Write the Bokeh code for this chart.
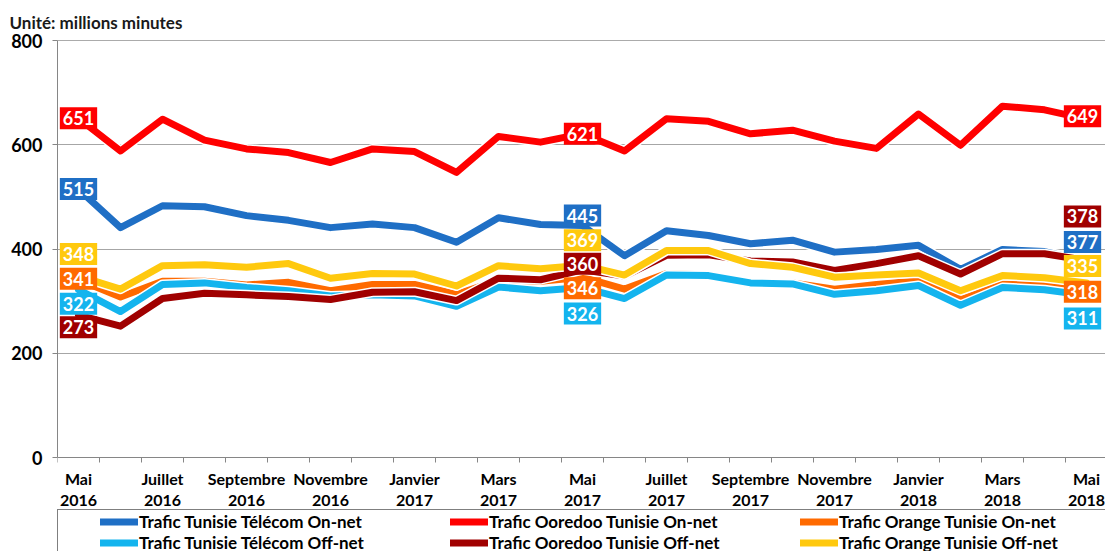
from bokeh.plotting import figure
from bokeh.models import ColumnDataSource, FixedTicker, Legend, LegendItem, Span, Range1d
from bokeh.core.properties import value, field
from bokeh.embed import file_html
from bokeh.resources import INLINE

# ---------------- data ----------------
months = ["Mai 2016", "Juin 2016", "Juillet 2016", "Août 2016", "Septembre 2016", "Octobre 2016",
          "Novembre 2016", "Décembre 2016", "Janvier 2017", "Février 2017", "Mars 2017", "Avril 2017",
          "Mai 2017", "Juin 2017", "Juillet 2017", "Août 2017", "Septembre 2017", "Octobre 2017",
          "Novembre 2017", "Décembre 2017", "Janvier 2018", "Février 2018", "Mars 2018", "Avril 2018",
          "Mai 2018"]
tick_labels = ["Mai\n2016", "Juillet\n2016", "Septembre\n2016", "Novembre\n2016", "Janvier\n2017",
               "Mars\n2017", "Mai\n2017", "Juillet\n2017", "Septembre\n2017", "Novembre\n2017",
               "Janvier\n2018", "Mars\n2018", "Mai\n2018"]

tt_on = [515, 441, 483, 481, 464, 455, 441, 448, 441, 413, 460, 447, 445, 387, 435, 426, 410, 417, 394, 399, 407, 361, 399, 395, 377]
oo_on = [651, 588, 649, 609, 592, 585, 566, 592, 587, 547, 616, 605, 621, 588, 650, 645, 621, 628, 607, 593, 659, 599, 674, 667, 649]
or_on = [341, 308, 338, 338, 331, 336, 320, 332, 332, 313, 340, 338, 346, 323, 353, 350, 333, 335, 323, 332, 339, 303, 333, 330, 318]
tt_off = [322, 280, 332, 335, 326, 320, 310, 312, 310, 290, 327, 320, 326, 305, 350, 349, 335, 333, 313, 320, 330, 292, 326, 322, 311]
oo_off = [273, 252, 305, 315, 312, 309, 303, 317, 318, 301, 344, 341, 360, 348, 388, 389, 377, 375, 359, 372, 387, 352, 391, 391, 378]
or_off = [348, 323, 368, 370, 365, 372, 344, 353, 352, 329, 368, 362, 369, 350, 397, 397, 372, 365, 346, 350, 354, 320, 349, 345, 335]

series_names = ["Trafic Tunisie Télécom On-net", "Trafic Ooredoo Tunisie On-net", "Trafic Orange Tunisie On-net",
                "Trafic Tunisie Télécom Off-net", "Trafic Ooredoo Tunisie Off-net", "Trafic Orange Tunisie Off-net"]
series_values = [tt_on, oo_on, or_on, tt_off, oo_off, or_off]
series_colors = ["#1f6fc5", "#ff0000", "#ff6a00", "#14b4ee", "#a00000", "#ffc90e"]

# labelled months and pixel nudges that keep the boxes from overlapping (style)
label_idx = [0, 12, 24]
label_dy = [  # per series, per labelled month (screen px, down positive)
    [0, -10, -19],
    [0, 0, -3],
    [-1, 11, 0],
    [14, 26, 23],
    [12, -6, -44],
    [-22, -25, -17],
]
label_dx = [0, 0, -4]

x = list(range(len(months)))

FONT = "Lato"

# frame covers the plot area plus the space below it (axis drawn at y=0, legend at the bottom)
FRAME_H = 511
PLOT_H = 417          # pixels from 0 to 800
Y_MAX = 800
y_start = Y_MAX - FRAME_H * Y_MAX / PLOT_H

p = figure(frame_width=1048, frame_height=FRAME_H, output_backend="svg", toolbar_location=None,
           x_range=Range1d(-0.5, -0.5 + 1048 / 42.0), y_range=Range1d(y_start, Y_MAX),
           min_border_left=57, min_border_right=0, min_border_top=40, min_border_bottom=0)
p.outline_line_color = None
p.background_fill_color = "white"
p.border_fill_color = "white"

# title
p.title.text = "Unité: millions minutes"
p.title.text_font = FONT
p.title.text_font_style = "bold"
p.title.text_font_size = "17px"
p.title.text_color = "#1a1a1a"
p.title.align = "left"
p.title.offset = -48
p.title.standoff = 16

# y axis
p.yaxis.ticker = FixedTicker(ticks=[0, 200, 400, 600, 800])
p.yaxis.bounds = (0, 800)
p.yaxis.axis_line_color = "#868686"
p.yaxis.major_tick_line_color = "#868686"
p.yaxis.major_tick_out = 5
p.yaxis.major_tick_in = 0
p.yaxis.minor_tick_line_color = None
p.yaxis.major_label_text_font = FONT
p.yaxis.major_label_text_font_style = "bold"
p.yaxis.major_label_text_font_size = "18px"
p.yaxis.major_label_text_color = "black"
p.yaxis.major_label_standoff = 10

# x axis, drawn at y = 0
p.xaxis.fixed_location = 0
p.xaxis.ticker = FixedTicker(ticks=list(range(0, 25, 2)), minor_ticks=[i - 0.5 for i in range(26)])
p.xaxis.major_label_overrides = {i * 2: t for i, t in enumerate(tick_labels)}
p.xaxis.axis_line_color = "#868686"
p.xaxis.major_tick_line_color = None
p.xaxis.major_tick_out = 0
p.xaxis.major_tick_in = 0
p.xaxis.minor_tick_line_color = "#868686"
p.xaxis.minor_tick_out = 5
p.xaxis.minor_tick_in = 0
p.xaxis.major_label_text_font = FONT
p.xaxis.major_label_text_font_style = "bold"
p.xaxis.major_label_text_font_size = "16px"
p.xaxis.major_label_text_color = "black"
p.xaxis.major_label_standoff = 6
p.xaxis.major_label_text_line_height = 1.11

p.xgrid.visible = False
p.ygrid.ticker = FixedTicker(ticks=[200, 400, 600])
p.ygrid.grid_line_color = "#a6a6a6"
p.ygrid.grid_line_width = 1
p.add_layout(Span(location=800, dimension="width", line_color="#595959", line_width=1))

# lines
renderers = []
for vals, col in zip(series_values, series_colors):
    src = ColumnDataSource(dict(x=x, y=vals))
    p.line("x", "y", source=src, line_color="white", line_width=10, line_join="round")
    r = p.line("x", "y", source=src, line_color=col, line_width=7, line_join="round", line_cap="round")
    renderers.append(r)

# data labels
lx, ly, lt, lc, ldy, ldx = [], [], [], [], [], []
for s, (vals, col) in enumerate(zip(series_values, series_colors)):
    for k, i in enumerate(label_idx):
        lx.append(x[i]); ly.append(vals[i]); lt.append(str(vals[i])); lc.append(col)
        ldy.append(label_dy[s][k]); ldx.append(label_dx[k])
lsrc = ColumnDataSource(dict(x=lx, y=ly, text=lt, color=lc, dy=ldy, dx=ldx))
p.text(x="x", y="y", text="text", source=lsrc, text_color="white",
       text_font=value(FONT), text_font_style="bold", text_font_size="18px",
       text_align="center", text_baseline="middle", text_line_height=1.0,
       x_offset="dx", y_offset="dy",
       background_fill_color=field("color"), padding=(3, 4), border_line_color=None)

# legend
legend = Legend(items=[LegendItem(label=n, renderers=[r]) for n, r in zip(series_names, renderers)],
                orientation="horizontal", ncols=3, location=(0, -4))
legend.title = " "
legend.title_location = "left"
legend.title_text_font_size = "1px"
legend.title_text_color = "white"
legend.title_standoff = 40
legend.label_text_font = FONT
legend.label_text_font_style = "bold"
legend.label_text_font_size = "17px"
legend.label_text_line_height = 1.1
legend.label_text_color = "black"
legend.glyph_width = 38
legend.glyph_height = 17
legend.label_height = 17
legend.label_width = 311
legend.label_standoff = 1
legend.spacing = 0
legend.padding = 1
legend.margin = 0
legend.border_line_color = "black"
legend.border_line_width = 1
legend.background_fill_alpha = 1
p.add_layout(legend)

open("out.html", "w").write(file_html(p, INLINE))
